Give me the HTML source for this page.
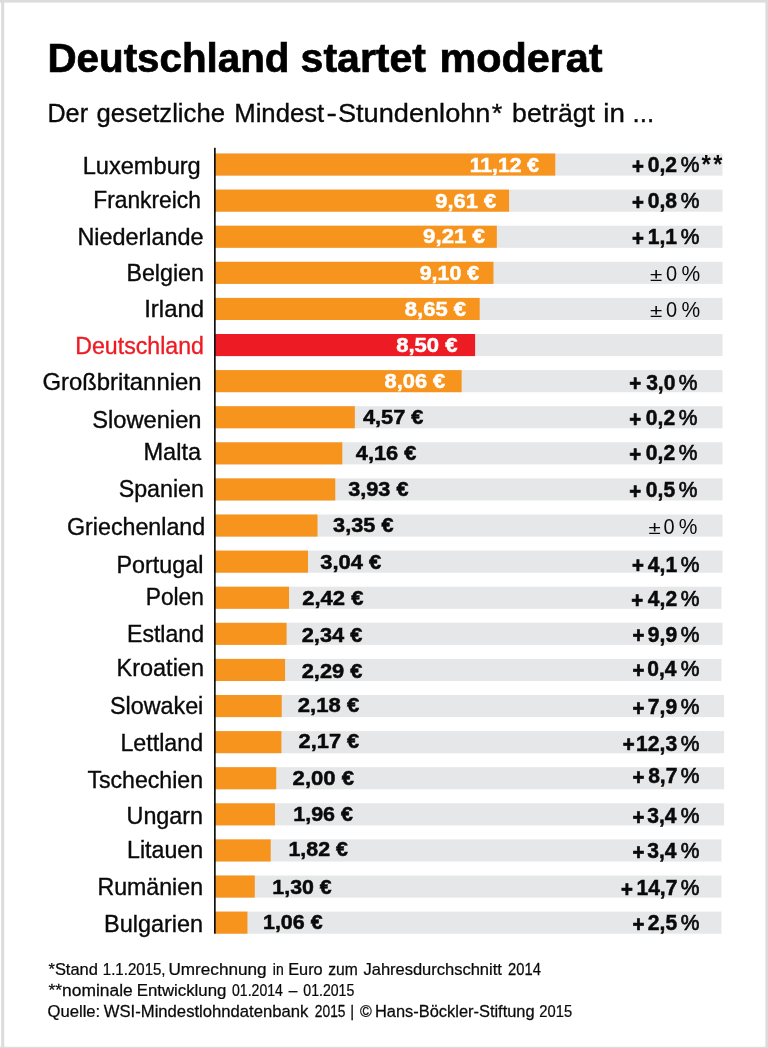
<!DOCTYPE html>
<html lang="de"><head><meta charset="utf-8"><title>Deutschland startet moderat</title>
<style>html,body{margin:0;padding:0;background:#fff}body{width:768px;height:1048px;overflow:hidden}svg{display:block;will-change:transform}text{font-family:"Liberation Sans",sans-serif;white-space:pre}</style></head><body>
<svg width="768" height="1048" viewBox="0 0 768 1048">
<rect width="768" height="1048" fill="#fff"/>
<rect x="0" y="0" width="768" height="2.6" fill="#dcdcdc"/>
<rect x="1.2" y="0" width="3" height="1048" fill="#dcdcdc"/>
<rect x="765.4" y="0" width="2.6" height="1048" fill="#dcdcdc"/>
<rect x="0" y="1046.8" width="768" height="1.2" fill="#dcdcdc"/>
<rect x="215.0" y="153.50" width="507.50" height="22.1" fill="#e6e7e8"/>
<rect x="215.0" y="153.50" width="340.27" height="22.1" fill="#f7941e"/>
<rect x="215.0" y="189.60" width="507.50" height="22.1" fill="#e6e7e8"/>
<rect x="215.0" y="189.60" width="294.07" height="22.1" fill="#f7941e"/>
<rect x="215.0" y="225.70" width="507.50" height="22.1" fill="#e6e7e8"/>
<rect x="215.0" y="225.70" width="281.83" height="22.1" fill="#f7941e"/>
<rect x="215.0" y="261.80" width="507.50" height="22.1" fill="#e6e7e8"/>
<rect x="215.0" y="261.80" width="278.46" height="22.1" fill="#f7941e"/>
<rect x="215.0" y="297.90" width="507.50" height="22.1" fill="#e6e7e8"/>
<rect x="215.0" y="297.90" width="264.69" height="22.1" fill="#f7941e"/>
<rect x="215.0" y="334.00" width="507.50" height="22.1" fill="#e6e7e8"/>
<rect x="215.0" y="334.00" width="260.10" height="22.1" fill="#ed1c24"/>
<rect x="215.0" y="370.10" width="507.50" height="22.1" fill="#e6e7e8"/>
<rect x="215.0" y="370.10" width="246.64" height="22.1" fill="#f7941e"/>
<rect x="215.0" y="406.20" width="507.50" height="22.1" fill="#e6e7e8"/>
<rect x="215.0" y="406.20" width="139.84" height="22.1" fill="#f7941e"/>
<rect x="215.0" y="442.30" width="507.50" height="22.1" fill="#e6e7e8"/>
<rect x="215.0" y="442.30" width="127.30" height="22.1" fill="#f7941e"/>
<rect x="215.0" y="478.40" width="507.50" height="22.1" fill="#e6e7e8"/>
<rect x="215.0" y="478.40" width="120.26" height="22.1" fill="#f7941e"/>
<rect x="215.0" y="514.50" width="507.50" height="22.1" fill="#e6e7e8"/>
<rect x="215.0" y="514.50" width="102.51" height="22.1" fill="#f7941e"/>
<rect x="215.0" y="550.60" width="507.50" height="22.1" fill="#e6e7e8"/>
<rect x="215.0" y="550.60" width="93.02" height="22.1" fill="#f7941e"/>
<rect x="215.0" y="586.70" width="506.50" height="22.1" fill="#e6e7e8"/>
<rect x="215.0" y="586.70" width="74.05" height="22.1" fill="#f7941e"/>
<rect x="215.0" y="622.80" width="507.50" height="22.1" fill="#e6e7e8"/>
<rect x="215.0" y="622.80" width="71.60" height="22.1" fill="#f7941e"/>
<rect x="215.0" y="658.90" width="506.50" height="22.1" fill="#e6e7e8"/>
<rect x="215.0" y="658.90" width="70.07" height="22.1" fill="#f7941e"/>
<rect x="215.0" y="695.00" width="509.10" height="22.1" fill="#e6e7e8"/>
<rect x="215.0" y="695.00" width="66.71" height="22.1" fill="#f7941e"/>
<rect x="215.0" y="731.10" width="509.10" height="22.1" fill="#e6e7e8"/>
<rect x="215.0" y="731.10" width="66.40" height="22.1" fill="#f7941e"/>
<rect x="215.0" y="767.20" width="509.10" height="22.1" fill="#e6e7e8"/>
<rect x="215.0" y="767.20" width="61.20" height="22.1" fill="#f7941e"/>
<rect x="215.0" y="803.30" width="509.10" height="22.1" fill="#e6e7e8"/>
<rect x="215.0" y="803.30" width="59.98" height="22.1" fill="#f7941e"/>
<rect x="215.0" y="839.40" width="506.50" height="22.1" fill="#e6e7e8"/>
<rect x="215.0" y="839.40" width="55.69" height="22.1" fill="#f7941e"/>
<rect x="215.0" y="875.50" width="506.50" height="22.1" fill="#e6e7e8"/>
<rect x="215.0" y="875.50" width="39.78" height="22.1" fill="#f7941e"/>
<rect x="215.0" y="911.60" width="506.50" height="22.1" fill="#e6e7e8"/>
<rect x="215.0" y="911.60" width="32.44" height="22.1" fill="#f7941e"/>
<rect x="214.0" y="147.8" width="1.7" height="785.90" fill="#111"/>
<text transform="translate(47.48 72.20) scale(0.9933 1)" font-size="40.6" font-weight="bold" fill="#000" stroke="#000" stroke-width="0.7">Deutschland</text>
<text transform="translate(300.62 72.20) scale(1.0103 1)" font-size="40.6" font-weight="bold" fill="#000" stroke="#000" stroke-width="0.7">startet</text>
<text transform="translate(439.41 72.20) scale(1.0194 1)" font-size="40.6" font-weight="bold" fill="#000" stroke="#000" stroke-width="0.7">moderat</text>
<text transform="translate(47.43 122.20) scale(0.9578 1)" font-size="26.3" fill="#0a0a0a" stroke="#0a0a0a" stroke-width="0.35">Der</text>
<text transform="translate(96.50 122.20) scale(0.9770 1)" font-size="26.3" fill="#0a0a0a" stroke="#0a0a0a" stroke-width="0.35">gesetzliche</text>
<text transform="translate(234.24 122.20) scale(0.9781 1)" font-size="26.3" fill="#0a0a0a" stroke="#0a0a0a" stroke-width="0.35">Mindest</text>
<text transform="translate(326.52 122.20) scale(1.1881 1)" font-size="26.3" fill="#0a0a0a" stroke="#0a0a0a" stroke-width="0.35">-</text>
<text transform="translate(337.90 122.20) scale(1.0333 1)" font-size="26.3" fill="#0a0a0a" stroke="#0a0a0a" stroke-width="0.35">Stundenlohn</text>
<text transform="translate(491.67 122.20) scale(1.0369 1)" font-size="26.3" fill="#0a0a0a" stroke="#0a0a0a" stroke-width="0.35">*</text>
<text transform="translate(512.09 122.20) scale(1.0115 1)" font-size="26.3" fill="#0a0a0a" stroke="#0a0a0a" stroke-width="0.35">beträgt</text>
<text transform="translate(603.27 122.20) scale(1.0548 1)" font-size="26.3" fill="#0a0a0a" stroke="#0a0a0a" stroke-width="0.35">in</text>
<text transform="translate(632.57 122.20) scale(0.9891 1)" font-size="26.3" fill="#0a0a0a" stroke="#0a0a0a" stroke-width="0.35">...</text>
<text transform="translate(82.65 173.90) scale(1.0051 1)" font-size="23.5" fill="#0a0a0a" stroke="#0a0a0a" stroke-width="0.35">Luxemburg</text>
<text transform="translate(469.78 171.80) scale(1.0156 1)" font-size="20.8" font-weight="bold" fill="#fff" stroke="#fff" stroke-width="0.5">11,12 €</text>
<text transform="translate(631.96 174.00) scale(0.9471 1)" font-size="21.5" font-weight="bold" fill="#0a0a0a" stroke="#0a0a0a" stroke-width="0.7">+</text>
<text transform="translate(647.73 172.20) scale(0.9800 1)" font-size="21.5" font-weight="bold" fill="#0a0a0a" stroke="#0a0a0a" stroke-width="0.5">0,2</text>
<text transform="translate(680.74 172.20) scale(0.9773 1)" font-size="21.5" fill="#0a0a0a" stroke="#0a0a0a" stroke-width="0.7">%</text>
<text transform="translate(701.60 172.70) scale(0.9255 1)" font-size="26.0" font-weight="bold" fill="#0a0a0a">*</text>
<text transform="translate(713.20 172.70) scale(0.9058 1)" font-size="26.0" font-weight="bold" fill="#0a0a0a">*</text>
<text transform="translate(93.22 207.70) scale(0.9708 1)" font-size="23.5" fill="#0a0a0a" stroke="#0a0a0a" stroke-width="0.35">Frankreich</text>
<text transform="translate(435.32 207.50) scale(1.0511 1)" font-size="20.8" font-weight="bold" fill="#fff" stroke="#fff" stroke-width="0.5">9,61 €</text>
<text transform="translate(631.96 210.10) scale(0.9471 1)" font-size="21.5" font-weight="bold" fill="#0a0a0a" stroke="#0a0a0a" stroke-width="0.7">+</text>
<text transform="translate(647.73 208.30) scale(0.9800 1)" font-size="21.5" font-weight="bold" fill="#0a0a0a" stroke="#0a0a0a" stroke-width="0.5">0,8</text>
<text transform="translate(680.74 208.30) scale(0.9773 1)" font-size="21.5" fill="#0a0a0a" stroke="#0a0a0a" stroke-width="0.7">%</text>
<text transform="translate(77.47 245.00) scale(0.9957 1)" font-size="23.5" fill="#0a0a0a" stroke="#0a0a0a" stroke-width="0.35">Niederlande</text>
<text transform="translate(423.11 243.20) scale(1.0687 1)" font-size="20.8" font-weight="bold" fill="#fff" stroke="#fff" stroke-width="0.5">9,21 €</text>
<text transform="translate(631.96 246.20) scale(0.9471 1)" font-size="21.5" font-weight="bold" fill="#0a0a0a" stroke="#0a0a0a" stroke-width="0.7">+</text>
<text transform="translate(647.73 244.40) scale(0.9800 1)" font-size="21.5" font-weight="bold" fill="#0a0a0a" stroke="#0a0a0a" stroke-width="0.5">1,1</text>
<text transform="translate(680.74 244.40) scale(0.9773 1)" font-size="21.5" fill="#0a0a0a" stroke="#0a0a0a" stroke-width="0.7">%</text>
<text transform="translate(126.38 281.00) scale(0.9902 1)" font-size="23.5" fill="#0a0a0a" stroke="#0a0a0a" stroke-width="0.35">Belgien</text>
<text transform="translate(419.73 280.00) scale(1.0283 1)" font-size="20.8" font-weight="bold" fill="#fff" stroke="#fff" stroke-width="0.5">9,10 €</text>
<text transform="translate(650.10 281.30) scale(1.0419 0.88)" font-size="21.5" fill="#0a0a0a">±</text>
<text transform="translate(665.98 281.30) scale(0.9302 1)" font-size="21.5" fill="#0a0a0a">0</text>
<text transform="translate(681.44 281.30) scale(0.9773 1)" font-size="21.5" fill="#0a0a0a">%</text>
<text transform="translate(144.23 317.20) scale(1.0175 1)" font-size="23.5" fill="#0a0a0a" stroke="#0a0a0a" stroke-width="0.35">Irland</text>
<text transform="translate(404.81 316.20) scale(1.0599 1)" font-size="20.8" font-weight="bold" fill="#fff" stroke="#fff" stroke-width="0.5">8,65 €</text>
<text transform="translate(650.10 316.70) scale(1.0419 0.88)" font-size="21.5" fill="#0a0a0a">±</text>
<text transform="translate(665.98 316.70) scale(0.9302 1)" font-size="21.5" fill="#0a0a0a">0</text>
<text transform="translate(681.44 316.70) scale(0.9773 1)" font-size="21.5" fill="#0a0a0a">%</text>
<text transform="translate(75.29 353.90) scale(0.9852 1)" font-size="23.5" fill="#ed1c24" stroke="#ed1c24" stroke-width="0.35">Deutschland</text>
<text transform="translate(396.21 351.90) scale(1.0599 1)" font-size="20.8" font-weight="bold" fill="#fff" stroke="#fff" stroke-width="0.5">8,50 €</text>
<text transform="translate(42.38 390.20) scale(1.0154 1)" font-size="23.5" fill="#0a0a0a" stroke="#0a0a0a" stroke-width="0.35">Großbritannien</text>
<text transform="translate(384.52 388.30) scale(1.0511 1)" font-size="20.8" font-weight="bold" fill="#fff" stroke="#fff" stroke-width="0.5">8,06 €</text>
<text transform="translate(629.16 391.40) scale(0.9471 1)" font-size="21.5" font-weight="bold" fill="#0a0a0a" stroke="#0a0a0a" stroke-width="0.7">+</text>
<text transform="translate(646.16 389.60) scale(0.9800 1)" font-size="21.5" font-weight="bold" fill="#0a0a0a" stroke="#0a0a0a" stroke-width="0.5">3,0</text>
<text transform="translate(678.84 389.60) scale(0.9773 1)" font-size="21.5" fill="#0a0a0a" stroke="#0a0a0a" stroke-width="0.7">%</text>
<text transform="translate(92.16 427.70) scale(1.0086 1)" font-size="23.5" fill="#0a0a0a" stroke="#0a0a0a" stroke-width="0.35">Slowenien</text>
<text transform="translate(362.90 423.60) scale(1.0479 1)" font-size="20.8" font-weight="bold" fill="#0a0a0a" stroke="#0a0a0a" stroke-width="0.5">4,57 €</text>
<text transform="translate(629.16 426.80) scale(0.9471 1)" font-size="21.5" font-weight="bold" fill="#0a0a0a" stroke="#0a0a0a" stroke-width="0.7">+</text>
<text transform="translate(645.83 425.00) scale(0.9800 1)" font-size="21.5" font-weight="bold" fill="#0a0a0a" stroke="#0a0a0a" stroke-width="0.5">0,2</text>
<text transform="translate(678.84 425.00) scale(0.9773 1)" font-size="21.5" fill="#0a0a0a" stroke="#0a0a0a" stroke-width="0.7">%</text>
<text transform="translate(143.46 460.10) scale(1.0040 1)" font-size="23.5" fill="#0a0a0a" stroke="#0a0a0a" stroke-width="0.35">Malta</text>
<text transform="translate(355.80 459.60) scale(1.0488 1)" font-size="20.8" font-weight="bold" fill="#0a0a0a" stroke="#0a0a0a" stroke-width="0.5">4,16 €</text>
<text transform="translate(629.16 462.20) scale(0.9471 1)" font-size="21.5" font-weight="bold" fill="#0a0a0a" stroke="#0a0a0a" stroke-width="0.7">+</text>
<text transform="translate(645.83 460.40) scale(0.9800 1)" font-size="21.5" font-weight="bold" fill="#0a0a0a" stroke="#0a0a0a" stroke-width="0.5">0,2</text>
<text transform="translate(678.84 460.40) scale(0.9773 1)" font-size="21.5" fill="#0a0a0a" stroke="#0a0a0a" stroke-width="0.7">%</text>
<text transform="translate(118.67 497.00) scale(0.9894 1)" font-size="23.5" fill="#0a0a0a" stroke="#0a0a0a" stroke-width="0.35">Spanien</text>
<text transform="translate(348.16 495.80) scale(1.0452 1)" font-size="20.8" font-weight="bold" fill="#0a0a0a" stroke="#0a0a0a" stroke-width="0.5">3,93 €</text>
<text transform="translate(629.16 498.60) scale(0.9471 1)" font-size="21.5" font-weight="bold" fill="#0a0a0a" stroke="#0a0a0a" stroke-width="0.7">+</text>
<text transform="translate(645.83 496.80) scale(0.9800 1)" font-size="21.5" font-weight="bold" fill="#0a0a0a" stroke="#0a0a0a" stroke-width="0.5">0,5</text>
<text transform="translate(678.84 496.80) scale(0.9773 1)" font-size="21.5" fill="#0a0a0a" stroke="#0a0a0a" stroke-width="0.7">%</text>
<text transform="translate(67.01 534.60) scale(0.9894 1)" font-size="23.5" fill="#0a0a0a" stroke="#0a0a0a" stroke-width="0.35">Griechenland</text>
<text transform="translate(333.06 531.80) scale(1.0452 1)" font-size="20.8" font-weight="bold" fill="#0a0a0a" stroke="#0a0a0a" stroke-width="0.5">3,35 €</text>
<text transform="translate(648.50 534.40) scale(1.0419 0.88)" font-size="21.5" fill="#0a0a0a">±</text>
<text transform="translate(663.38 534.40) scale(0.9302 1)" font-size="21.5" fill="#0a0a0a">0</text>
<text transform="translate(678.84 534.40) scale(0.9773 1)" font-size="21.5" fill="#0a0a0a">%</text>
<text transform="translate(116.48 572.80) scale(0.9924 1)" font-size="23.5" fill="#0a0a0a" stroke="#0a0a0a" stroke-width="0.35">Portugal</text>
<text transform="translate(320.26 568.80) scale(1.0539 1)" font-size="20.8" font-weight="bold" fill="#0a0a0a" stroke="#0a0a0a" stroke-width="0.5">3,04 €</text>
<text transform="translate(632.06 573.40) scale(0.9471 1)" font-size="21.5" font-weight="bold" fill="#0a0a0a" stroke="#0a0a0a" stroke-width="0.7">+</text>
<text transform="translate(647.83 571.60) scale(0.9800 1)" font-size="21.5" font-weight="bold" fill="#0a0a0a" stroke="#0a0a0a" stroke-width="0.5">4,1</text>
<text transform="translate(680.84 571.60) scale(0.9773 1)" font-size="21.5" fill="#0a0a0a" stroke="#0a0a0a" stroke-width="0.7">%</text>
<text transform="translate(145.72 605.10) scale(0.9693 1)" font-size="23.5" fill="#0a0a0a" stroke="#0a0a0a" stroke-width="0.35">Polen</text>
<text transform="translate(302.21 604.80) scale(1.0599 1)" font-size="20.8" font-weight="bold" fill="#0a0a0a" stroke="#0a0a0a" stroke-width="0.5">2,42 €</text>
<text transform="translate(631.36 607.70) scale(0.9471 1)" font-size="21.5" font-weight="bold" fill="#0a0a0a" stroke="#0a0a0a" stroke-width="0.7">+</text>
<text transform="translate(647.83 605.90) scale(0.9800 1)" font-size="21.5" font-weight="bold" fill="#0a0a0a" stroke="#0a0a0a" stroke-width="0.5">4,2</text>
<text transform="translate(680.84 605.90) scale(0.9773 1)" font-size="21.5" fill="#0a0a0a" stroke="#0a0a0a" stroke-width="0.7">%</text>
<text transform="translate(127.00 642.10) scale(0.9824 1)" font-size="23.5" fill="#0a0a0a" stroke="#0a0a0a" stroke-width="0.35">Estland</text>
<text transform="translate(301.72 641.80) scale(1.0511 1)" font-size="20.8" font-weight="bold" fill="#0a0a0a" stroke="#0a0a0a" stroke-width="0.5">2,34 €</text>
<text transform="translate(632.46 643.40) scale(0.9471 1)" font-size="21.5" font-weight="bold" fill="#0a0a0a" stroke="#0a0a0a" stroke-width="0.7">+</text>
<text transform="translate(647.83 641.60) scale(0.9800 1)" font-size="21.5" font-weight="bold" fill="#0a0a0a" stroke="#0a0a0a" stroke-width="0.5">9,9</text>
<text transform="translate(680.84 641.60) scale(0.9773 1)" font-size="21.5" fill="#0a0a0a" stroke="#0a0a0a" stroke-width="0.7">%</text>
<text transform="translate(116.46 676.20) scale(1.0003 1)" font-size="23.5" fill="#0a0a0a" stroke="#0a0a0a" stroke-width="0.35">Kroatien</text>
<text transform="translate(301.72 677.50) scale(1.0511 1)" font-size="20.8" font-weight="bold" fill="#0a0a0a" stroke="#0a0a0a" stroke-width="0.5">2,29 €</text>
<text transform="translate(632.46 677.90) scale(0.9471 1)" font-size="21.5" font-weight="bold" fill="#0a0a0a" stroke="#0a0a0a" stroke-width="0.7">+</text>
<text transform="translate(647.18 676.10) scale(0.9800 1)" font-size="21.5" font-weight="bold" fill="#0a0a0a" stroke="#0a0a0a" stroke-width="0.5">0,4</text>
<text transform="translate(680.84 676.10) scale(0.9773 1)" font-size="21.5" fill="#0a0a0a" stroke="#0a0a0a" stroke-width="0.7">%</text>
<text transform="translate(109.97 714.20) scale(0.9928 1)" font-size="23.5" fill="#0a0a0a" stroke="#0a0a0a" stroke-width="0.35">Slowakei</text>
<text transform="translate(297.81 711.90) scale(1.0617 1)" font-size="20.8" font-weight="bold" fill="#0a0a0a" stroke="#0a0a0a" stroke-width="0.5">2,18 €</text>
<text transform="translate(632.46 716.20) scale(0.9471 1)" font-size="21.5" font-weight="bold" fill="#0a0a0a" stroke="#0a0a0a" stroke-width="0.7">+</text>
<text transform="translate(647.83 714.40) scale(0.9800 1)" font-size="21.5" font-weight="bold" fill="#0a0a0a" stroke="#0a0a0a" stroke-width="0.5">7,9</text>
<text transform="translate(680.84 714.40) scale(0.9773 1)" font-size="21.5" fill="#0a0a0a" stroke="#0a0a0a" stroke-width="0.7">%</text>
<text transform="translate(120.38 750.80) scale(0.9892 1)" font-size="23.5" fill="#0a0a0a" stroke="#0a0a0a" stroke-width="0.35">Lettland</text>
<text transform="translate(298.62 748.40) scale(1.0476 1)" font-size="20.8" font-weight="bold" fill="#0a0a0a" stroke="#0a0a0a" stroke-width="0.5">2,17 €</text>
<text transform="translate(622.66 752.30) scale(0.9471 1)" font-size="21.5" font-weight="bold" fill="#0a0a0a" stroke="#0a0a0a" stroke-width="0.7">+</text>
<text transform="translate(636.12 750.50) scale(0.9800 1)" font-size="21.5" font-weight="bold" fill="#0a0a0a" stroke="#0a0a0a" stroke-width="0.5">12,3</text>
<text transform="translate(680.84 750.50) scale(0.9773 1)" font-size="21.5" fill="#0a0a0a" stroke="#0a0a0a" stroke-width="0.7">%</text>
<text transform="translate(87.44 787.60) scale(0.9838 1)" font-size="23.5" fill="#0a0a0a" stroke="#0a0a0a" stroke-width="0.35">Tschechien</text>
<text transform="translate(292.61 784.90) scale(1.0608 1)" font-size="20.8" font-weight="bold" fill="#0a0a0a" stroke="#0a0a0a" stroke-width="0.5">2,00 €</text>
<text transform="translate(632.46 785.10) scale(0.9471 1)" font-size="21.5" font-weight="bold" fill="#0a0a0a" stroke="#0a0a0a" stroke-width="0.7">+</text>
<text transform="translate(648.16 783.30) scale(0.9800 1)" font-size="21.5" font-weight="bold" fill="#0a0a0a" stroke="#0a0a0a" stroke-width="0.5">8,7</text>
<text transform="translate(680.84 783.30) scale(0.9773 1)" font-size="21.5" fill="#0a0a0a" stroke="#0a0a0a" stroke-width="0.7">%</text>
<text transform="translate(126.54 823.80) scale(0.9934 1)" font-size="23.5" fill="#0a0a0a" stroke="#0a0a0a" stroke-width="0.35">Ungarn</text>
<text transform="translate(293.26 820.60) scale(1.0313 1)" font-size="20.8" font-weight="bold" fill="#0a0a0a" stroke="#0a0a0a" stroke-width="0.5">1,96 €</text>
<text transform="translate(632.46 824.80) scale(0.9471 1)" font-size="21.5" font-weight="bold" fill="#0a0a0a" stroke="#0a0a0a" stroke-width="0.7">+</text>
<text transform="translate(647.18 823.00) scale(0.9800 1)" font-size="21.5" font-weight="bold" fill="#0a0a0a" stroke="#0a0a0a" stroke-width="0.5">3,4</text>
<text transform="translate(680.84 823.00) scale(0.9773 1)" font-size="21.5" fill="#0a0a0a" stroke="#0a0a0a" stroke-width="0.7">%</text>
<text transform="translate(126.99 857.90) scale(0.9873 1)" font-size="23.5" fill="#0a0a0a" stroke="#0a0a0a" stroke-width="0.35">Litauen</text>
<text transform="translate(288.46 855.70) scale(1.0277 1)" font-size="20.8" font-weight="bold" fill="#0a0a0a" stroke="#0a0a0a" stroke-width="0.5">1,82 €</text>
<text transform="translate(632.46 859.80) scale(0.9471 1)" font-size="21.5" font-weight="bold" fill="#0a0a0a" stroke="#0a0a0a" stroke-width="0.7">+</text>
<text transform="translate(647.18 858.00) scale(0.9800 1)" font-size="21.5" font-weight="bold" fill="#0a0a0a" stroke="#0a0a0a" stroke-width="0.5">3,4</text>
<text transform="translate(680.84 858.00) scale(0.9773 1)" font-size="21.5" fill="#0a0a0a" stroke="#0a0a0a" stroke-width="0.7">%</text>
<text transform="translate(97.39 894.90) scale(0.9869 1)" font-size="23.5" fill="#0a0a0a" stroke="#0a0a0a" stroke-width="0.35">Rumänien</text>
<text transform="translate(272.37 893.70) scale(1.0260 1)" font-size="20.8" font-weight="bold" fill="#0a0a0a" stroke="#0a0a0a" stroke-width="0.5">1,30 €</text>
<text transform="translate(621.06 897.00) scale(0.9471 1)" font-size="21.5" font-weight="bold" fill="#0a0a0a" stroke="#0a0a0a" stroke-width="0.7">+</text>
<text transform="translate(636.45 895.20) scale(0.9800 1)" font-size="21.5" font-weight="bold" fill="#0a0a0a" stroke="#0a0a0a" stroke-width="0.5">14,7</text>
<text transform="translate(680.84 895.20) scale(0.9773 1)" font-size="21.5" fill="#0a0a0a" stroke="#0a0a0a" stroke-width="0.7">%</text>
<text transform="translate(104.07 932.10) scale(0.9976 1)" font-size="23.5" fill="#0a0a0a" stroke="#0a0a0a" stroke-width="0.35">Bulgarien</text>
<text transform="translate(262.96 929.40) scale(1.0313 1)" font-size="20.8" font-weight="bold" fill="#0a0a0a" stroke="#0a0a0a" stroke-width="0.5">1,06 €</text>
<text transform="translate(632.46 932.00) scale(0.9471 1)" font-size="21.5" font-weight="bold" fill="#0a0a0a" stroke="#0a0a0a" stroke-width="0.7">+</text>
<text transform="translate(647.83 930.20) scale(0.9800 1)" font-size="21.5" font-weight="bold" fill="#0a0a0a" stroke="#0a0a0a" stroke-width="0.5">2,5</text>
<text transform="translate(680.84 930.20) scale(0.9773 1)" font-size="21.5" fill="#0a0a0a" stroke="#0a0a0a" stroke-width="0.7">%</text>
<text transform="translate(48.49 975.40) scale(1.0290 1)" font-size="16.0" fill="#0a0a0a" stroke="#0a0a0a" stroke-width="0.25">*Stand</text>
<text transform="translate(102.81 975.40) scale(0.9414 1)" font-size="16.0" fill="#0a0a0a" stroke="#0a0a0a" stroke-width="0.25">1.1.2015,</text>
<text transform="translate(168.43 975.40) scale(1.0730 1)" font-size="16.0" fill="#0a0a0a" stroke="#0a0a0a" stroke-width="0.25">Umrechnung</text>
<text transform="translate(272.87 975.40) scale(0.8764 1)" font-size="16.0" fill="#0a0a0a" stroke="#0a0a0a" stroke-width="0.25">in</text>
<text transform="translate(288.23 975.40) scale(1.0189 1)" font-size="16.0" fill="#0a0a0a" stroke="#0a0a0a" stroke-width="0.25">Euro</text>
<text transform="translate(328.26 975.40) scale(0.9776 1)" font-size="16.0" fill="#0a0a0a" stroke="#0a0a0a" stroke-width="0.25">zum</text>
<text transform="translate(363.49 975.40) scale(1.0310 1)" font-size="16.0" fill="#0a0a0a" stroke="#0a0a0a" stroke-width="0.25">Jahresdurchschnitt</text>
<text transform="translate(508.06 975.40) scale(0.9218 1)" font-size="16.0" fill="#0a0a0a" stroke="#0a0a0a" stroke-width="0.25">2014</text>
<text transform="translate(48.48 996.30) scale(1.0885 1)" font-size="16.0" fill="#0a0a0a" stroke="#0a0a0a" stroke-width="0.25">**nominale</text>
<text transform="translate(136.69 996.30) scale(1.0513 1)" font-size="16.0" fill="#0a0a0a" stroke="#0a0a0a" stroke-width="0.25">Entwicklung</text>
<text transform="translate(232.06 996.30) scale(0.8782 1)" font-size="16.0" fill="#0a0a0a" stroke="#0a0a0a" stroke-width="0.25">01.2014</text>
<text transform="translate(288.75 996.30) scale(0.9722 1)" font-size="16.0" fill="#0a0a0a" stroke="#0a0a0a" stroke-width="0.25">–</text>
<text transform="translate(303.31 996.30) scale(0.8820 1)" font-size="16.0" fill="#0a0a0a" stroke="#0a0a0a" stroke-width="0.25">01.2015</text>
<text transform="translate(47.47 1017.00) scale(1.0412 1)" font-size="16.0" fill="#0a0a0a" stroke="#0a0a0a" stroke-width="0.25">Quelle:</text>
<text transform="translate(103.75 1017.00) scale(1.0416 1)" font-size="16.0" fill="#0a0a0a" stroke="#0a0a0a" stroke-width="0.25">WSI-Mindestlohndatenbank</text>
<text transform="translate(314.85 1017.00) scale(0.8627 1)" font-size="16.0" fill="#0a0a0a" stroke="#0a0a0a" stroke-width="0.25">2015</text>
<text transform="translate(350.13 1017.00) scale(0.9333 1)" font-size="16.0" fill="#0a0a0a" stroke="#0a0a0a" stroke-width="0.25">|</text>
<text transform="translate(360.00 1017.00) scale(1.0000 1)" font-size="16.0" fill="#0a0a0a" stroke="#0a0a0a" stroke-width="0.25">©</text>
<text transform="translate(374.97 1017.00) scale(1.0263 1)" font-size="16.0" fill="#0a0a0a" stroke="#0a0a0a" stroke-width="0.25">Hans-Böckler-Stiftung</text>
<text transform="translate(539.31 1017.00) scale(0.9212 1)" font-size="16.0" fill="#0a0a0a" stroke="#0a0a0a" stroke-width="0.25">2015</text>
</svg></body></html>
